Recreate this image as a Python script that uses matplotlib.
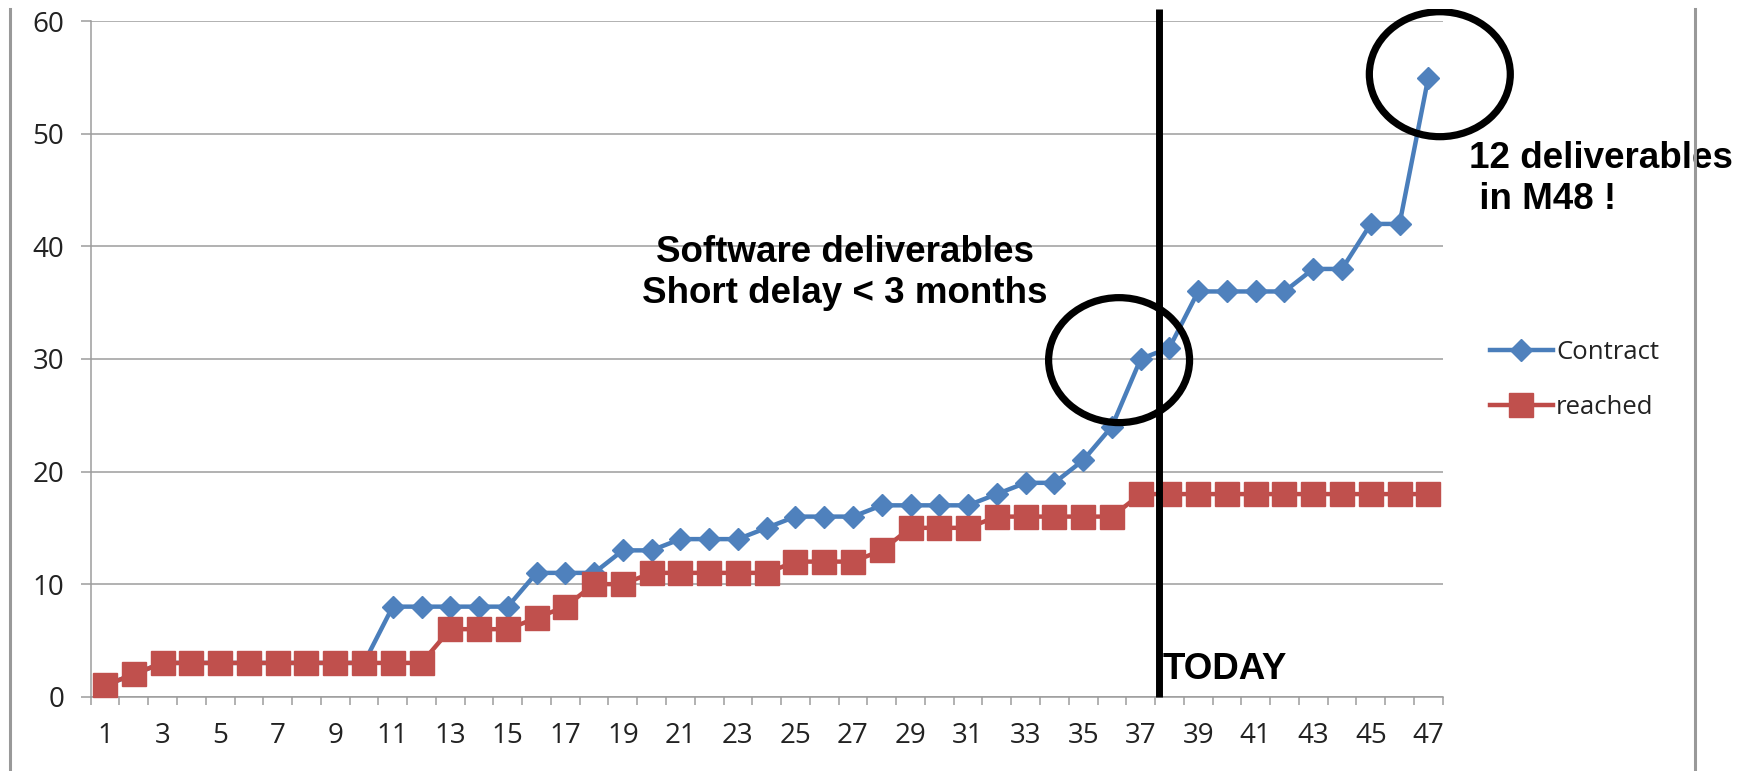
import numpy as np
import matplotlib
matplotlib.use("Agg")
import matplotlib.pyplot as plt
from matplotlib.patches import Ellipse
from matplotlib.lines import Line2D
from matplotlib.transforms import Bbox, TransformedBbox

months = list(range(1, 48))
contract = [1, 2, 3, 3, 3, 3, 3, 3, 3, 3, 8, 8, 8, 8, 8, 11, 11, 11, 13, 13,
            14, 14, 14, 15, 16, 16, 16, 17, 17, 17, 17, 18, 19, 19, 21, 24, 30,
            31, 36, 36, 36, 36, 38, 38, 42, 42, 55]
reached = [1, 2, 3, 3, 3, 3, 3, 3, 3, 3, 3, 3, 6, 6, 6, 7, 8, 10, 10, 11,
           11, 11, 11, 11, 12, 12, 12, 13, 15, 15, 15, 16, 16, 16, 16, 16, 18,
           18, 18, 18, 18, 18, 18, 18, 18, 18, 18]
today = 37.65

W, H = 1752, 771
fig = plt.figure(figsize=(W / 100, H / 100), dpi=100)
ax = fig.add_axes([90.7 / W, 1 - 696.7 / H, (1442.7 - 90.7) / W, (696.7 - 21.3) / H])

grey = "#9c9c9c"
ax.plot(months, contract, color="#4A7EBB", lw=3.2, marker="D", ms=11.5,
        mfc="#4F81BD", mec="#4F81BD", label="Contract", zorder=3, clip_on=False)
ax.plot(months, reached, color="#BE4B48", lw=3.2, marker="s", ms=17,
        mfc="#C0504D", mec="#C0504D", label="reached", zorder=4, clip_on=False)

ax.set_xlim(0.5, 47.5)
ax.set_ylim(0, 60)
ax.set_yticks(range(0, 61, 10))
ax.set_xticks(np.arange(0.5, 48, 1))
ax.set_xticklabels([])
ax.set_xticks(months[::2], minor=True)
ax.set_xticklabels([str(m) for m in months[::2]], minor=True)
ax.tick_params(axis="x", which="major", direction="out", length=5.8, width=1.1, color=grey)
ax.tick_params(axis="x", which="minor", length=0, pad=18.5, labelsize=20, labelcolor="#222222")
ax.tick_params(axis="y", direction="out", length=7.2, width=1.1, color=grey,
               pad=12, labelsize=20, labelcolor="#222222")
for lab in ax.get_xticklabels(minor=True) + ax.get_yticklabels():
    lab.set_fontfamily("Open Sans")
ax.grid(axis="y", color=grey, lw=1.1)
ax.set_axisbelow(True)
for s in ["top", "right"]:
    ax.spines[s].set_visible(False)
for s in ["left", "bottom"]:
    ax.spines[s].set_color(grey)
    ax.spines[s].set_linewidth(1.1)

# TODAY line, reaching above the plot area
ax.vlines(today, 0, 61.1, color="black", lw=5, zorder=6, clip_on=False)

clip = TransformedBbox(Bbox.from_extents(0, 0, 1, 1 - 9 / H), fig.transFigure)
for cx, cy in [(36.25, 29.9), (47.4, 55.3)]:
    e = Ellipse((cx, cy), 4.9, 11.1, fill=False, ec="black", lw=5.2, zorder=7)
    ax.add_patch(e)
    e.set_clip_path(None)
    e.set_clip_box(clip)

bold = dict(family="Liberation Sans", weight="bold", size=26.5, color="black")
ax.text(26.72, 37.64, "Software deliverables\nShort delay < 3 months",
        ha="center", va="center", linespacing=1.2, clip_on=False, **bold)
ax.text(48.41, 46.0, "12 deliverables\n in M48 !", ha="left", va="center",
        linespacing=1.2, clip_on=False, zorder=1, **bold)
ax.text(37.78, 1.57, "TODAY", ha="left", va="baseline", clip_on=False, **bold)

leg = fig.legend(loc="center left", bbox_to_anchor=(1490 / W, 1 - 380 / H),
                 frameon=False, borderpad=0, borderaxespad=0, handlelength=2.45,
                 handletextpad=0.12, labelspacing=1.2,
                 prop={"family": "Open Sans", "size": 18.5})
for t in leg.get_texts():
    t.set_color("#222222")

# chart frame sides
for x in [10, 1695]:
    fig.add_artist(Line2D([x / W, x / W], [0, 1 - 9 / H], transform=fig.transFigure,
                          color="#999999", lw=2.2, zorder=10))

fig.savefig("out.png", dpi=100)
